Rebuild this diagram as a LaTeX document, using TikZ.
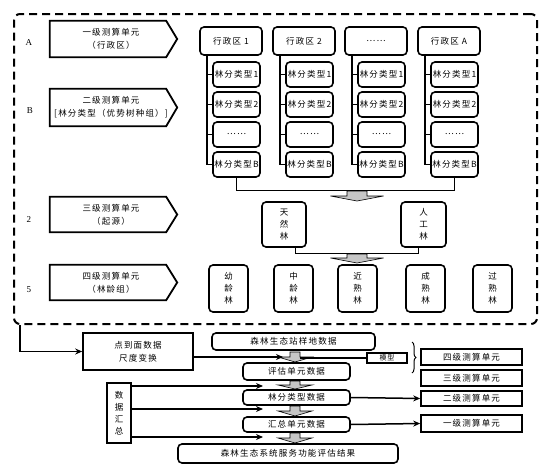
\documentclass[tikz,border=0pt]{standalone}
\usepackage{fontspec}
\setmainfont{Noto Sans CJK SC}[LetterSpace=14]
\newfontfamily\serifl{Liberation Serif}
\usetikzlibrary{arrows.meta,calc,decorations.pathreplacing}
\tikzset{
 base/.style={inner sep=0pt, align=center, font=\fontsize{8.5}{13}\selectfont},
 rbox/.style={base, draw, line width=1.6pt, rounded corners=4pt},
 sbox/.style={base, draw, line width=1.6pt},
 plain/.style={base},
 vtext/.style={font=\fontsize{8.5}{12}\selectfont},
 dashbox/.style={draw, dash pattern=on 8pt off 5pt, line width=2pt, rounded corners=6pt, inner sep=0pt},
 conn/.style={line width=1.6pt},
 thinl/.style={line width=0.8pt},
 arr/.style={line width=1.5pt, -{Stealth[length=7pt,width=6pt]}},
 blk/.style={draw=black, line width=0.6pt, fill=gray!45},
 lbl/.style={font=\serifl\fontsize{9}{10}\selectfont},
}
\newcommand\bxn[7]{%
 \pgfmathsetmacro\bxcx{((#3)+(#5))/2}\pgfmathsetmacro\bxcy{((#4)+(#6))/2}%
 \pgfmathsetmacro\bxw{(#5)-(#3)}\pgfmathsetmacro\bxh{(#6)-(#4)}%
 \node[#2,minimum width=\bxw pt,minimum height=\bxh pt] (#1) at (\bxcx,\bxcy) {#7};}
\newcommand\pent[6]{%
 \bxn{#1}{plain}{#2}{#3}{#4}{#5}{#6}%
 \draw[line width=1.8pt,line join=miter] (#1.north west) -- ([xshift=-6pt]#1.north east) -- ([xshift=5pt]#1.east) -- ([xshift=-6pt]#1.south east) -- (#1.south west) -- cycle;}
\newcommand\blkarr[6]{%
 \draw[blk] ({#1-#3/2},#2) -- ({#1+#3/2},#2) -- ({#1+#3/2},{#2+#4}) -- ({#1+#5/2},{#2+#4}) -- (#1,{#2+#4+#6}) -- ({#1-#5/2},{#2+#4}) -- ({#1-#3/2},{#2+#4}) -- cycle;}
\begin{document}
\begin{tikzpicture}[x=1pt,y=-1pt]
\useasboundingbox (0,0) rectangle (558,474);
% outer dashed frame
\bxn{outer}{dashbox}{14}{14}{537}{324}{}
% level labels
\node[lbl] (la) at (29,43) {A};
\node[lbl] (lb) at (30,111) {B};
\node[lbl] (l2) at (29,220) {2};
\node[lbl] (l5) at (29,290) {5};
% pentagons
\pent{p1}{50}{21}{172}{57}{一级测算单元\\（行政区）}
\pent{p2}{50}{89}{172}{126}{二级测算单元\\{[}林分类型（优势树种组）{]}}
\pent{p3}{50}{197}{172}{232}{三级测算单元\\（起源）}
\pent{p4}{50}{265}{172}{300}{四级测算单元\\（林龄组）}
% columns
\foreach \i/\cx/\hd in {1/200/行政区 1,2/273/行政区 2,3/345/……,4/418/行政区 A}{
 \bxn{h\i}{rbox}{\cx}{27}{\cx+62}{55}{\hd}
 \coordinate (v\i) at (\cx+7,55);
 \foreach \k/\tx in {1/林分类型1,2/林分类型2,3/……,4/林分类型B}{
  \bxn{s\i\k}{rbox}{\cx+13}{32+30*\k}{\cx+60}{57+30*\k}{\tx}
 }
 \draw[conn] (v\i) |- (s\i4.west);
 \foreach \k in {1,2,3}{\draw[conn] (v\i |- s\i\k.west) -- (s\i\k.west);}
}
% bracket 1 and block arrow
\draw[thinl] (s14.south) |- ($(s44.south)+(0,13)$) -- (s44.south);
\blkarr{357}{191}{20}{5}{53}{5}
% origin
\bxn{tr}{rbox,vtext}{262}{202}{306}{247}{天\\然\\林}
\bxn{rg}{rbox,vtext}{401}{202}{446}{247}{人\\工\\林}
\draw[thinl] ($(tr.south)+(11,0)$) -- ++(0,6) -| ($(rg.south)+(-5,0)$);
\blkarr{357}{254}{20}{4}{53}{5}
% age groups
\foreach \n/\x/\t in {a1/209/幼\\龄\\林,a2/274/中\\龄\\林,a3/338/近\\熟\\林,a4/406/成\\熟\\林,a5/473/过\\熟\\林}{
 \bxn{\n}{rbox,vtext}{\x}{265}{\x+39}{312}{\t}
}
% bottom section
\bxn{scale}{sbox}{83}{333}{193}{370}{点到面数据\\尺度变换}
\bxn{site}{rbox}{212}{333}{375}{350}{森林生态站样地数据}
\bxn{model}{sbox}{367}{353}{407}{363}{\fontsize{7}{8}\selectfont 模型}
\bxn{eval}{rbox}{243}{363}{350}{380}{评估单元数据}
\bxn{ftype}{rbox}{243}{390}{350}{405}{林分类型数据}
\bxn{summ}{rbox}{243}{417}{350}{432}{汇总单元数据}
\bxn{result}{rbox}{178}{444}{398}{463}{森林生态系统服务功能评估结果}
\bxn{agg}{sbox,vtext}{107}{383}{131}{443}{数\\据\\汇\\总}
\bxn{L4}{sbox}{421}{349}{522}{365}{四级测算单元}
\bxn{L3}{sbox}{421}{370}{522}{386}{三级测算单元}
\bxn{L2}{sbox}{421}{391}{522}{406}{二级测算单元}
\bxn{L1}{sbox}{421}{415}{522}{432}{一级测算单元}
% block arrows in chain
\blkarr{295}{352}{10}{5}{34}{5}
\blkarr{295}{381}{10}{4}{34}{4}
\blkarr{295}{406}{10}{5}{34}{5}
\blkarr{295}{433}{10}{5}{34}{5}
% connectors
\draw[arr] ([xshift=7pt]outer.south west) |- (scale.west);
\coordinate (ba1) at (283,357);
\draw[arr] (scale.east |- ba1) -- (ba1);
\coordinate (ba1r) at (300,358);
\draw[conn] (model.west) -- (ba1r);
\coordinate (t1) at (263,386);
\coordinate (t2) at (263,409);
\coordinate (t3) at (263,437);
\foreach \t in {t1,t2,t3}{\draw[arr] (agg.east |- \t) -- (\t);}
\draw[arr] (ftype.east) -- (L2.west);
\draw[arr] (summ.east) -- (L1.west);
\coordinate (brt) at (412,342);
\coordinate (brb) at (412,373);
\draw[line width=1pt, decorate, decoration={brace,amplitude=4pt}] (brt) -- (brb);
\end{tikzpicture}
\end{document}
